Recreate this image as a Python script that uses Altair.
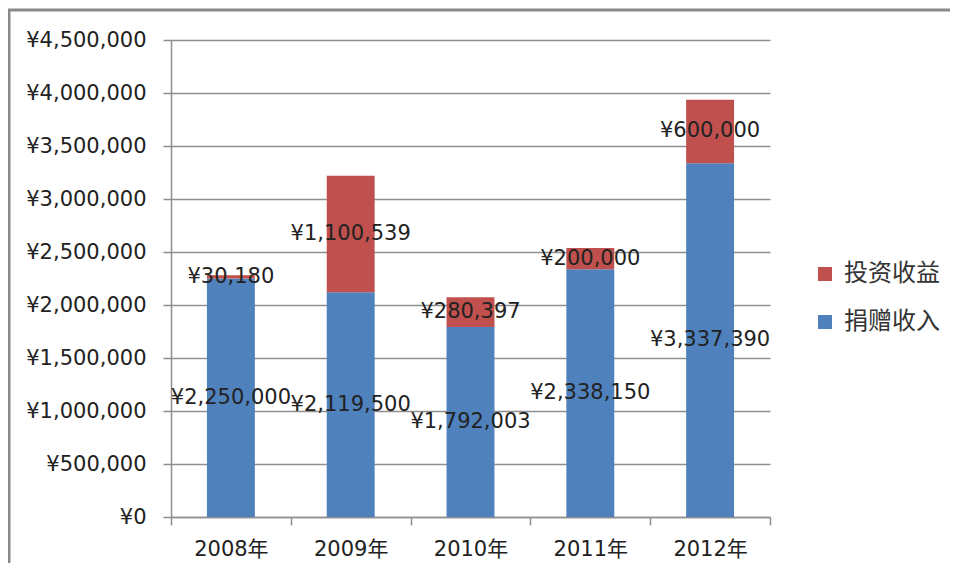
import altair as alt
import pandas as pd

years = ["2008年", "2009年", "2010年", "2011年", "2012年"]
donation = [2250000, 2119500, 1792003, 2338150, 3337390]
investment = [30180, 1100539, 280397, 200000, 600000]
series = ["捐赠收入", "投资收益"]
legend_order = ["投资收益", "捐赠收入"]
legend_colors = ["#C0504D", "#4F81BD"]
y_ticks = [0, 500000, 1000000, 1500000, 2000000, 2500000, 3000000, 3500000, 4000000, 4500000]

rows = []
for i, yr in enumerate(years):
    rows.append({"year": yr, "series": series[0], "value": donation[i], "ord": 0})
    rows.append({"year": yr, "series": series[1], "value": investment[i], "ord": 1})
df = pd.DataFrame(rows)

FONT = "DejaVu Sans, Noto Sans CJK SC"
GRID = "#8f8f8f"
TEXT = "#222222"

base = alt.Chart(df).transform_stack(
    stack="value", as_=["v0", "v1"], groupby=["year"],
    sort=[alt.SortField("ord", order="ascending")]
).transform_calculate(
    mid="(datum.v0 + datum.v1) / 2",
    label="'¥' + format(datum.value, ',')"
)

x_enc = alt.X(
    "year:N", sort=years,
    scale=alt.Scale(paddingInner=0, paddingOuter=0),
    axis=alt.Axis(title=None, labelAngle=0, tickBand="extent", tickSize=8,
                  labelPadding=13, labelFontSize=21, labelFont=FONT,
                  labelColor=TEXT, domainColor=GRID, tickColor=GRID,
                  domainWidth=1.5, tickWidth=1.5, grid=False),
)

bars = base.mark_bar(width=alt.RelativeBandSize(0.4)).encode(
    x=x_enc,
    y=alt.Y("v0:Q", scale=alt.Scale(domain=[0, 4500000], nice=False),
            axis=alt.Axis(title=None, values=y_ticks,
                          labelExpr="'¥' + format(datum.value, ',')",
                          tickSize=8, labelPadding=17, labelFontSize=21,
                          labelFont=FONT, labelColor=TEXT,
                          domainColor=GRID, tickColor=GRID, gridColor=GRID,
                          domainWidth=1.5, tickWidth=1.5, gridWidth=1.5)),
    y2="v1:Q",
    color=alt.Color("series:N",
                    scale=alt.Scale(domain=legend_order, range=legend_colors),
                    legend=alt.Legend(title=None, orient="none", legendX=642,
                                      legendY=222, symbolType="square",
                                      symbolSize=196, symbolStrokeWidth=0,
                                      labelFontSize=24, labelFont=FONT,
                                      labelColor="#333333", rowPadding=24,
                                      labelOffset=7)),
)

labels = base.mark_text(fontSize=21, font=FONT, color=TEXT, baseline="middle").encode(
    x=alt.X("year:N", sort=years),
    y=alt.Y("mid:Q"),
    text="label:N",
)

frame_df = pd.DataFrame({"k": [0]})
left_edge = alt.Chart(frame_df).mark_rule(color="#8a8a8a", strokeWidth=3).encode(
    x=alt.value(-162), y=alt.value(-30), y2=alt.value(523))
top_edge = alt.Chart(frame_df).mark_rule(color="#8a8a8a", strokeWidth=3).encode(
    x=alt.value(-163), x2=alt.value(779), y=alt.value(-30))

chart = alt.layer(bars, labels, left_edge, top_edge).properties(
    width=599, height=477,
    autosize=alt.AutoSizeParams(type="none"),
    padding={"left": 163, "top": 32, "right": 180, "bottom": 54},
).configure_view(stroke=None)

chart.save("out.html", embed_options={"renderer": "svg", "actions": False})
